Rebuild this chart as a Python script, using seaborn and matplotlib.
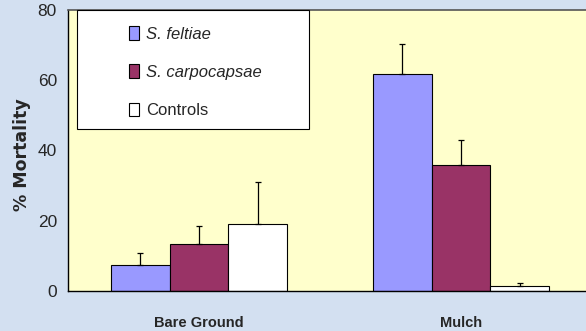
import matplotlib
matplotlib.use("Agg")
import matplotlib.pyplot as plt
import seaborn as sns
import pandas as pd
import numpy as np
from matplotlib.patches import Patch, Rectangle

categories = ["Bare Ground", "Mulch"]
series = ["S. feltiae", "S. carpocapsae", "Controls"]
feltiae = [7.4, 61.9]
carpocapsae = [13.3, 36.0]
controls = [19.1, 1.4]
feltiae_err = [3.3, 8.3]
carpocapsae_err = [5.3, 6.9]
controls_err = [11.8, 1.0]
y_ticks = [0, 20, 40, 60, 80]

colors = ["#9999ff", "#993366", "#ffffff"]

values = [feltiae, carpocapsae, controls]
errors = [feltiae_err, carpocapsae_err, controls_err]
df = pd.DataFrame({
    "cat": [c for s in series for c in categories],
    "series": [s for s in series for c in categories],
    "val": [v for vals in values for v in vals],
    "err": [e for errs in errors for e in errs],
})

sns.set_style("white")
plt.rcParams["font.family"] = ["Liberation Sans", "DejaVu Sans"]

fig = plt.figure(figsize=(5.86, 3.31), dpi=100)
fig.patch.set_facecolor("#d3e0f1")
ax = fig.add_axes([68/586, 40/331, 524/586, 281/331])
ax.set_facecolor("#ffffcc")

sns.barplot(data=df, x="cat", y="val", hue="series", order=categories,
            hue_order=series, palette=colors, width=0.67, gap=0, saturation=1,
            edgecolor="black", linewidth=0.8, errorbar=None, ax=ax, legend=False)

# error bars (upward only)
for s_i, s in enumerate(series):
    cont = ax.containers[s_i]
    for b_i, bar in enumerate(cont):
        xc = bar.get_x() + bar.get_width() / 2
        h = bar.get_height()
        e = errors[s_i][b_i]
        ax.errorbar([xc], [h], yerr=[[0], [e]], fmt="none", ecolor="black",
                    elinewidth=0.9, capsize=2.5, capthick=0.9)

ax.set_ylim(0, 80)
ax.set_xlim(-0.5, 1.5)
ax.set_yticks(y_ticks)
ax.set_yticklabels([str(t) for t in y_ticks], fontsize=12.5)
ax.set_xticks([-0.5, 0.5, 1.5], minor=False)
ax.set_xticklabels(["", "", ""])
ax.tick_params(axis="y", direction="out", length=6, width=0.8, color="black", pad=2)
ax.tick_params(axis="x", direction="out", length=5, width=0.8, color="black")
for i, c in enumerate(categories):
    ax.text(i, -9, c, ha="center", va="center", fontsize=10.5, fontweight="bold")
ax.set_xlabel("")
ax.set_ylabel("")
ax.spines["right"].set_visible(False)
ax.spines["top"].set_color("#555555")
ax.spines["top"].set_linewidth(1.2)
for sp in ["left", "bottom"]:
    ax.spines[sp].set_color("black")
    ax.spines[sp].set_linewidth(1.0)

fig.text(22/586, 1 - 155/331, "% Mortality", rotation=90, ha="center", va="center",
         fontsize=12.5, fontweight="bold", family=["DejaVu Sans"])

# legend box
fig.patches.append(Rectangle((77/586, 1 - 129/331), 232/586, 119/331,
                             transform=fig.transFigure, facecolor="white",
                             edgecolor="black", linewidth=0.8, zorder=5))
handles = [Patch(facecolor=c, edgecolor="black", linewidth=0.8) for c in colors]
leg = fig.legend(handles, series, loc="upper left",
                 bbox_to_anchor=(129/586, 1 - 26/331), frameon=False,
                 borderpad=0, borderaxespad=0,
                 fontsize=12, handlelength=0.6, handleheight=0.9,
                 handletextpad=0.4, labelspacing=1.36)
for t in leg.get_texts()[:2]:
    t.set_fontstyle("italic")
leg.set_zorder(6)

fig.savefig("out.png", dpi=100, facecolor=fig.get_facecolor())
